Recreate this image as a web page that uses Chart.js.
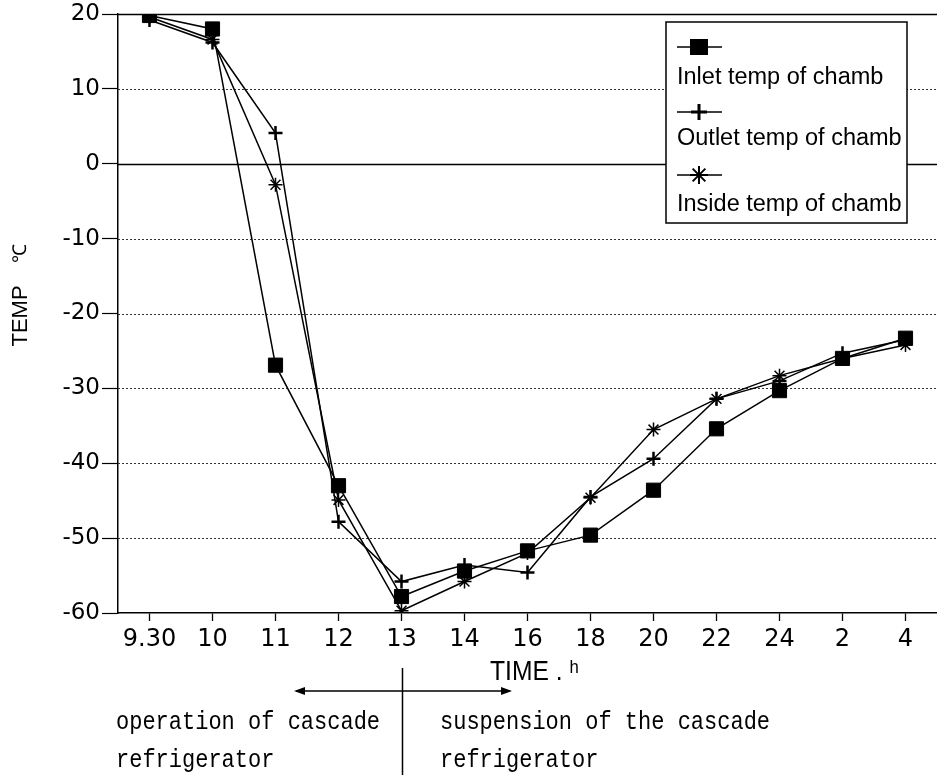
<!DOCTYPE html>
<html>
<head>
<meta charset="utf-8">
<script src="https://cdn.jsdelivr.net/npm/chart.js@4/dist/chart.umd.min.js"></script>
<style>
  body { margin: 0; background: #fff; }
  #wrap { width: 937px; height: 775px; position: relative; }
</style>
</head>
<body>
<div id="wrap"><canvas id="chart"></canvas></div>
<script>
// --- datos ---
const timeLabels = ["9.30", "10", "11", "12", "13", "14", "16", "18", "20", "22", "24", "2", "4"];
const inletTemp  = [19.8, 18.0, -26.9, -43.0, -57.8, -54.4, -51.7, -49.6, -43.6, -35.4, -30.3, -26.0, -23.3];
const outletTemp = [19.2, 16.2, 4.1, -47.8, -55.8, -53.6, -54.6, -44.5, -39.4, -31.4, -29.0, -25.3, -23.5];
const insideTemp = [19.6, 16.6, -2.8, -44.9, -59.7, -55.8, -52.0, -44.6, -35.5, -31.4, -28.3, -26.0, -24.2];
const seriesNames = ["Inlet temp of chamb", "Outlet temp of chamb", "Inside temp of chamb"];
const yTicks = [-60, -50, -40, -30, -20, -10, 0, 10, 20];

// marcador para la leyenda
function drawMarker(ctx, style, x, y) {
    ctx.save();
    ctx.fillStyle = "#000";
    ctx.strokeStyle = "#000";
    ctx.lineWidth = 2;
    if (style === "rect") {
        ctx.fillRect(x - 9, y - 8, 18, 16);
    } else if (style === "cross") {
        ctx.beginPath();
        ctx.moveTo(x - 8, y); ctx.lineTo(x + 8, y);
        ctx.moveTo(x, y - 8); ctx.lineTo(x, y + 8);
        ctx.lineWidth = 3;
        ctx.stroke();
    } else {
        ctx.beginPath();
        for (let k = 0; k < 4; k++) {
            const a = k * Math.PI / 4;
            ctx.moveTo(x - 9 * Math.cos(a), y - 9 * Math.sin(a));
            ctx.lineTo(x + 9 * Math.cos(a), y + 9 * Math.sin(a));
        }
        ctx.stroke();
    }
    ctx.restore();
}

const extras = {
    id: "extras",
    beforeDatasetsDraw(chart) {
        const { ctx, chartArea, scales } = chart;
        ctx.save();
        yTicks.forEach(v => {
            if (v === -60) return;
            const py = Math.round(scales.y.getPixelForValue(v)) + 0.5;
            ctx.beginPath();
            if (v === 0 || v === 20) {
                ctx.setLineDash([]);
                ctx.strokeStyle = "#000";
                ctx.lineWidth = 1.3;
            } else {
                ctx.setLineDash([2, 2]);
                ctx.strokeStyle = "#333";
                ctx.lineWidth = 1;
            }
            ctx.moveTo(chartArea.left, py);
            ctx.lineTo(chartArea.right, py);
            ctx.stroke();
        });
        ctx.restore();
    },
    afterDraw(chart) {
        const { ctx, scales } = chart;
        ctx.save();

        // --- leyenda ---
        const bx = 666, by = 22, bw = 241, bh = 201;
        ctx.fillStyle = "#fff";
        ctx.fillRect(bx, by, bw, bh);
        ctx.strokeStyle = "#000";
        ctx.lineWidth = 1.5;
        ctx.strokeRect(bx, by, bw, bh);
        const styles = ["rect", "cross", "star"];
        const markY = [47, 112, 175];
        const textY = [78, 139, 205];
        ctx.save();
        ctx.beginPath();
        ctx.rect(bx, by, bw, bh);
        ctx.clip();
        styles.forEach((s, i) => {
            ctx.beginPath();
            ctx.lineWidth = 1.5;
            ctx.moveTo(677, markY[i]);
            ctx.lineTo(722, markY[i]);
            ctx.stroke();
            drawMarker(ctx, s, 699, markY[i]);
            ctx.fillStyle = "#000";
            ctx.font = "23.5px 'Liberation Sans', Arial, sans-serif";
            ctx.textBaseline = "middle";
            ctx.textAlign = "left";
            ctx.fillText(seriesNames[i], 677, textY[i]);
        });
        ctx.restore();

        // --- titulo eje Y ---
        ctx.fillStyle = "#000";
        ctx.save();
        ctx.translate(21, 316);
        ctx.rotate(-Math.PI / 2);
        ctx.font = "22px 'Liberation Sans', Arial, sans-serif";
        ctx.textAlign = "center";
        ctx.textBaseline = "middle";
        ctx.fillText("TEMP", 0, 0);
        ctx.font = "19px 'Liberation Sans', Arial, sans-serif";
        ctx.fillText("℃", 63, 0);
        ctx.restore();

        // --- titulo eje X ---
        ctx.save();
        ctx.translate(490, 672);
        ctx.scale(0.88, 1);
        ctx.font = "28px 'Liberation Sans', Arial, sans-serif";
        ctx.textBaseline = "middle";
        ctx.textAlign = "left";
        ctx.fillText("TIME .", 0, 0);
        const w = ctx.measureText("TIME . ").width;
        ctx.font = "19px 'Liberation Sans', Arial, sans-serif";
        ctx.fillText("h", w, -4);
        ctx.restore();

        // --- anotacion de periodos ---
        const xSplit = Math.round(scales.x.getPixelForValue(4)) + 0.5;
        ctx.strokeStyle = "#000";
        ctx.lineWidth = 1.5;
        ctx.beginPath();
        ctx.moveTo(xSplit, 668);
        ctx.lineTo(xSplit, 775);
        ctx.moveTo(296, 691);
        ctx.lineTo(510, 691);
        ctx.stroke();
        // puntas de flecha
        ctx.beginPath();
        ctx.moveTo(294, 691); ctx.lineTo(305, 687); ctx.lineTo(305, 695); ctx.closePath();
        ctx.moveTo(512, 691); ctx.lineTo(501, 687); ctx.lineTo(501, 695); ctx.closePath();
        ctx.fill();

        ctx.font = "22px 'Liberation Mono', 'DejaVu Sans Mono', monospace";
        ctx.textBaseline = "middle";
        ctx.textAlign = "left";
        const rows = [["operation of cascade", 116, 722], ["refrigerator", 116, 760],
                      ["suspension of the cascade", 440, 722], ["refrigerator", 440, 760]];
        rows.forEach(([t, x, y]) => {
            ctx.save();
            ctx.translate(x, y);
            ctx.scale(1, 1.18);
            ctx.fillText(t, 0, 0);
            ctx.restore();
        });

        ctx.restore();
    }
};

function lineSet(label, data, style, radius, bw) {
    return {
        label,
        data,
        borderColor: "#000",
        backgroundColor: "#000",
        borderWidth: 1.5,
        pointStyle: style,
        pointRadius: radius,
        pointBorderWidth: bw,
        pointBackgroundColor: "#000",
        pointBorderColor: "#000",
        tension: 0,
        fill: false
    };
}

new Chart(document.getElementById("chart").getContext("2d"), {
    type: "line",
    data: {
        labels: timeLabels,
        datasets: [
            lineSet(seriesNames[0], inletTemp, "rect", 10, 1),
            lineSet(seriesNames[1], outletTemp, "cross", 7, 2.5),
            lineSet(seriesNames[2], insideTemp, "star", 7, 1.5)
        ]
    },
    options: {
        responsive: true,
        maintainAspectRatio: false,
        animation: false,
        layout: { autoPadding: false, padding: { top: 14, right: 0, left: 0, bottom: 0 } },
        plugins: {
            legend: { display: false },
            tooltip: { enabled: false }
        },
        scales: {
            x: {
                type: "category",
                offset: true,
                afterFit: s => { s.height = 162; s.paddingLeft = 0; s.paddingRight = 0; },
                grid: {
                    offset: false,
                    drawOnChartArea: false,
                    drawTicks: true,
                    tickLength: 8,
                    tickColor: "#000",
                    tickWidth: 1.3
                },
                border: { display: true, color: "#000", width: 1.5 },
                ticks: {
                    color: "#000",
                    padding: 4,
                    maxRotation: 0,
                    autoSkip: false,
                    font: { family: "'DejaVu Sans', sans-serif", size: 24 }
                }
            },
            y: {
                min: -60,
                max: 20,
                afterFit: s => { s.width = 118; s.paddingTop = 0; s.paddingBottom = 0; },
                afterBuildTicks: s => { s.ticks = yTicks.map(v => ({ value: v })); },
                grid: {
                    drawOnChartArea: false,
                    drawTicks: true,
                    tickLength: 16,
                    tickColor: "#000",
                    tickWidth: 1.2
                },
                border: { display: true, color: "#000", width: 1.5 },
                ticks: {
                    color: "#000",
                    padding: 2,
                    font: { family: "'DejaVu Sans', sans-serif", size: 23 }
                }
            }
        }
    },
    plugins: [extras]
});
</script>
</body>
</html>
